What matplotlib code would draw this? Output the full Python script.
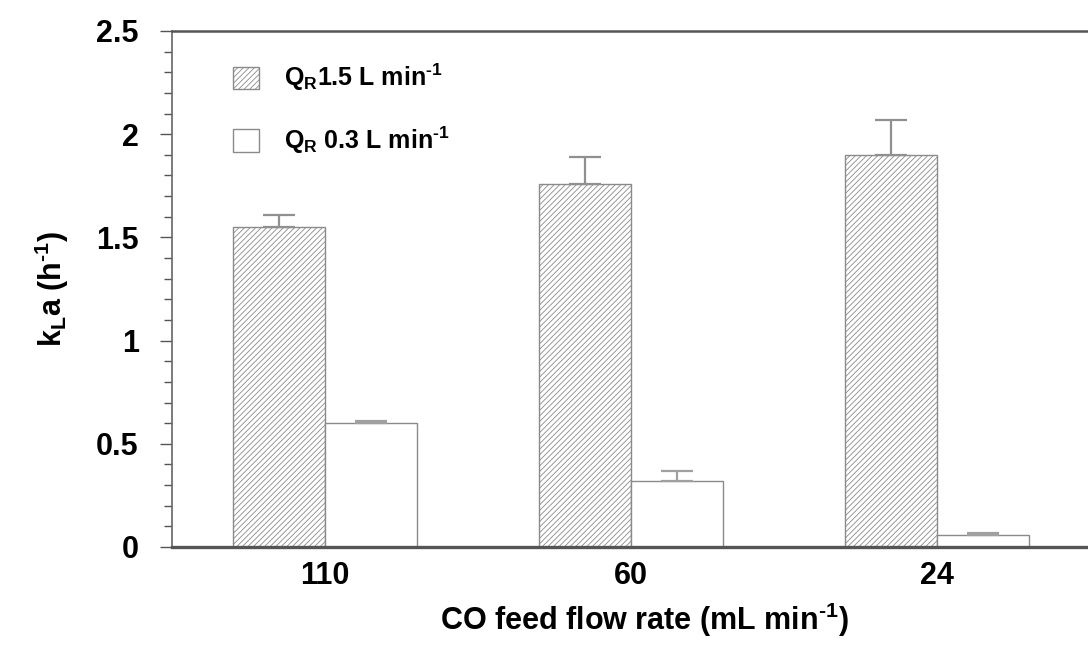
import matplotlib
matplotlib.use("Agg")
import matplotlib.pyplot as plt
import numpy as np

plt.rcParams['font.family'] = ['Liberation Sans', 'DejaVu Sans']
plt.rcParams['font.weight'] = 'bold'
plt.rcParams['mathtext.fontset'] = 'custom'
plt.rcParams['mathtext.rm'] = 'Liberation Sans:bold'
plt.rcParams['mathtext.bf'] = 'Liberation Sans:bold'
plt.rcParams['mathtext.it'] = 'Liberation Sans:bold'
plt.rcParams['mathtext.default'] = 'bf'
plt.rcParams['hatch.color'] = '#999999'
plt.rcParams['hatch.linewidth'] = 0.6

categories = ['110', '60', '24']
high_vals = [1.55, 1.76, 1.90]
high_err = [0.06, 0.13, 0.17]
low_vals = [0.60, 0.32, 0.06]
low_err = [0.01, 0.05, 0.01]
labels = [r'Q$_{\mathbf{R}}$1.5 L min$^{\text{-1}}$', r'Q$_{\mathbf{R}}$ 0.3 L min$^{\text{-1}}$']

fig = plt.figure(figsize=(10.88, 6.5), dpi=100)
ax = fig.add_axes([172/1088, 103/650, 918/1088, 516/650])

x = np.arange(len(categories))
w = 0.30
zeros = [0] * len(categories)
b1 = ax.bar(x - w/2, high_vals, w, color='white', edgecolor='#8a8a8a', hatch='//////',
            linewidth=1.0, label=labels[0])
b2 = ax.bar(x + w/2, low_vals, w, color='white', edgecolor='#8a8a8a',
            linewidth=1.0, label=labels[1])
ax.errorbar(x - w/2, high_vals, yerr=[zeros, high_err], fmt='none', ecolor='#909090',
            elinewidth=1.6, capsize=11.5, capthick=1.6)
ax.errorbar(x + w/2, low_vals, yerr=[zeros, low_err], fmt='none', ecolor='#a0a0a0',
            elinewidth=1.6, capsize=11.5, capthick=1.6)

ax.set_xlim(-0.5, 2.5)
ax.set_ylim(0, 2.5)
ax.set_xticks(x)
ax.set_xticklabels(categories, fontsize=22, fontweight='bold')
ax.tick_params(axis='x', length=0, pad=10)
ax.set_yticks([0, 0.5, 1, 1.5, 2, 2.5])
ax.set_yticklabels(['0', '0.5', '1', '1.5', '2', '2.5'], fontsize=22, fontweight='bold')
ax.set_yticks(np.arange(0, 2.51, 0.1), minor=True)
ax.tick_params(axis='y', which='major', length=9, width=1.0, color='#555555', pad=15)
ax.tick_params(axis='y', which='minor', length=6, width=1.0, color='#555555')

ax.spines['right'].set_visible(False)
ax.spines['left'].set_color('#666666')
ax.spines['left'].set_linewidth(1.2)
ax.spines['top'].set_color('#555555')
ax.spines['top'].set_linewidth(1.8)
ax.spines['bottom'].set_color('#555555')
ax.spines['bottom'].set_linewidth(2.4)

ax.set_xlabel(r'CO feed flow rate (mL min$^{\text{-1}}$)', fontsize=22, fontweight='bold', labelpad=6)
ax.xaxis.set_label_coords(0.515, -0.105)
ax.set_ylabel(r'k$_{\mathbf{L}}$a (h$^{\text{-1}}$)', fontsize=22, fontweight='bold', labelpad=18)

leg = ax.legend(handles=[b1, b2], loc='upper left', bbox_to_anchor=(0.066, 0.94), frameon=False,
                fontsize=18, handlelength=1.04, handleheight=1.0, handletextpad=1.0,
                labelspacing=1.25, borderpad=0, borderaxespad=0)

fig.savefig('out.png', dpi=100)
